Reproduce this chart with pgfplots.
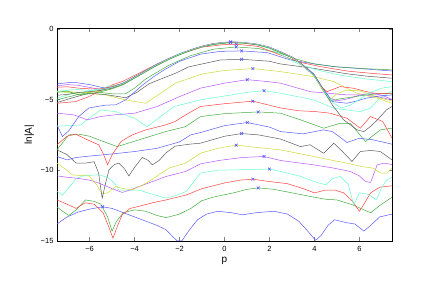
\documentclass[border=0pt]{standalone}
\usepackage{fontspec}
\setmainfont{Liberation Sans}
\usepackage{pgfplots}
\pgfplotsset{compat=1.18}
\definecolor{mlb}{rgb}{0.35,0.35,1}
\definecolor{mlg}{rgb}{0.25,0.68,0.25}
\definecolor{mlr}{rgb}{1,0.25,0.25}
\definecolor{mlc}{rgb}{0.4,1,0.78}
\definecolor{mlm}{rgb}{0.72,0.33,1}
\definecolor{mly}{rgb}{0.8,0.86,0.2}
\definecolor{mlk}{rgb}{0.36,0.36,0.36}
\begin{document}
\begin{tikzpicture}
\begin{axis}[name=ax,
  scale only axis, width=335pt, height=212.3pt,
  xmin=-7.45, xmax=7.45, ymin=-15, ymax=0,
  xtick={-6,-4,-2,0,2,4,6}, xticklabels={−6,−4,−2,0,2,4,6},
  ytick={-15,-10,-5,0}, yticklabels={−15,−10,−5,0},
  tick align=inside, tick pos=both, major tick length=3.5pt,
  ticklabel style={font=\fontsize{7.5}{9}\selectfont},
  xticklabel style={yshift=-1.5pt},
  label style={font=\fontsize{10}{12}\selectfont},
  xlabel={p}, ylabel={ln|A|},
  xlabel style={yshift=1pt}, ylabel style={yshift=0pt},
  axis line style={line width=0.6pt},
  every axis plot/.append style={line width=0.5pt},
  clip=true]
% 1 blue
\addplot[color=mlb, mark=none] coordinates {(-7.45,-13.8) (-7.0,-13.3) (-6.5,-12.95) (-6.0,-12.75) (-5.42,-12.58) (-5.0,-12.7) (-4.5,-13.0) (-4.0,-13.3) (-3.5,-13.6) (-3.0,-13.9) (-2.6,-14.2) (-2.3,-14.7) (-2.1,-15.0) (-1.9,-15.0) (-1.6,-14.3) (-1.2,-13.5) (-0.8,-13.1) (-0.3,-12.9) (0.3,-13.0) (0.8,-13.15) (1.4,-13.0) (2.2,-12.9) (2.8,-13.1) (3.3,-13.6) (3.7,-14.3) (4.05,-14.95) (4.3,-14.6) (4.6,-13.9) (4.9,-13.5) (5.4,-13.7) (5.8,-13.8) (6.2,-14.3) (6.5,-13.9) (6.9,-13.3) (7.45,-13.1)};
% 2 green
\addplot[color=mlg, mark=none] coordinates {(-7.45,-12.6) (-7.2,-12.9) (-6.92,-13.2) (-6.6,-12.8) (-6.18,-12.1) (-5.8,-12.2) (-5.5,-12.4) (-5.2,-13.3) (-5.0,-14.3) (-4.8,-13.6) (-4.5,-13.0) (-4.0,-12.8) (-3.5,-12.9) (-3.0,-13.2) (-2.6,-13.35) (-2.0,-13.1) (-1.5,-12.7) (-1.0,-12.15) (-0.5,-11.9) (0.4,-11.6) (1.0,-11.35) (1.5,-11.25) (2.2,-11.35) (3.0,-11.6) (3.8,-11.85) (4.5,-12.05) (5.0,-12.1) (5.7,-12.45) (6.2,-12.8) (6.5,-13.0) (6.9,-12.5) (7.45,-11.9)};
% 3 red
\addplot[color=mlr, mark=none] coordinates {(-7.45,-12.1) (-7.0,-12.4) (-6.6,-12.7) (-6.2,-12.3) (-5.8,-12.4) (-5.4,-13.0) (-5.15,-14.0) (-4.96,-14.8) (-4.75,-13.9) (-4.55,-13.15) (-4.2,-12.7) (-3.8,-12.55) (-3.2,-12.3) (-2.6,-12.1) (-1.7,-11.75) (-1.0,-11.3) (0.0,-10.9) (0.7,-10.7) (1.26,-10.63) (2.0,-10.8) (2.8,-10.95) (3.5,-11.3) (4.0,-11.6) (4.5,-11.4) (4.9,-11.4) (5.3,-11.6) (5.7,-12.2) (6.0,-12.9) (6.2,-12.4) (6.5,-11.6) (6.9,-11.2) (7.45,-11.1)};
% 4 cyan
\addplot[color=mlc, mark=none] coordinates {(-7.45,-11.5) (-7.2,-11.75) (-6.9,-11.2) (-6.6,-10.6) (-6.3,-10.4) (-5.6,-10.32) (-5.2,-10.5) (-4.9,-10.9) (-4.7,-11.4) (-4.3,-11.4) (-3.8,-11.4) (-3.2,-11.7) (-2.6,-11.97) (-2.2,-11.8) (-1.7,-11.5) (-1.07,-10.2) (-0.3,-10.0) (0.5,-9.97) (1.2,-9.95) (2.0,-9.92) (2.5,-10.09) (3.4,-10.44) (4.0,-10.8) (4.5,-11.03) (4.8,-10.6) (5.15,-10.44) (5.5,-11.0) (5.75,-12.44) (6.0,-11.6) (6.4,-11.7) (6.76,-12.1) (7.0,-11.2) (7.2,-10.7) (7.45,-10.5)};
% 5 purple
\addplot[color=mlm, mark=none] coordinates {(-7.45,-10.4) (-7.0,-10.5) (-6.6,-10.56) (-6.0,-10.7) (-5.6,-10.9) (-5.0,-11.3) (-4.55,-11.57) (-4.2,-11.4) (-3.8,-11.15) (-3.2,-10.8) (-2.6,-10.44) (-1.73,-10.09) (-1.07,-9.55) (-0.2,-9.3) (0.8,-9.1) (1.76,-9.03) (2.49,-9.31) (3.38,-9.5) (3.97,-9.62) (4.86,-9.85) (5.6,-10.09) (6.0,-10.4) (6.27,-10.8) (6.5,-10.86) (6.79,-9.62) (7.1,-9.5) (7.45,-9.6)};
% 6 yellow
\addplot[color=mly, mark=none] coordinates {(-7.45,-9.5) (-7.1,-9.9) (-6.77,-10.32) (-6.4,-10.38) (-6.03,-10.4) (-5.7,-11.0) (-5.44,-11.66) (-5.2,-11.6) (-4.84,-11.15) (-4.5,-11.3) (-4.1,-11.38) (-3.7,-11.1) (-3.36,-10.8) (-2.9,-10.3) (-2.47,-9.85) (-1.73,-9.5) (-1.07,-8.8) (-0.3,-8.45) (0.52,-8.23) (1.5,-8.4) (2.49,-8.56) (3.97,-9.03) (4.7,-9.27) (5.45,-9.5) (6.1,-9.74) (6.6,-9.85) (6.95,-10.2) (7.23,-10.2) (7.45,-9.85)};
% 7 gray
\addplot[color=mlk, mark=none] coordinates {(-7.45,-8.56) (-7.0,-8.9) (-6.6,-9.5) (-6.2,-9.5) (-5.8,-9.4) (-5.6,-10.2) (-5.44,-11.97) (-5.3,-11.0) (-5.14,-9.97) (-4.9,-9.6) (-4.7,-9.5) (-4.45,-9.9) (-4.25,-10.4) (-4.0,-9.8) (-3.66,-9.1) (-3.4,-9.3) (-3.21,-9.62) (-2.9,-9.3) (-2.62,-8.8) (-2.2,-8.3) (-1.5,-8.15) (-1.07,-8.09) (0.0,-7.6) (0.76,-7.41) (1.5,-7.5) (2.49,-7.8) (3.38,-8.33) (3.8,-8.2) (4.41,-8.8) (4.86,-8.09) (5.2,-8.6) (5.67,-9.38) (6.04,-8.68) (6.5,-8.6) (6.93,-8.68) (7.45,-9.27)};
% 8 blue
\addplot[color=mlb, mark=none] coordinates {(-7.45,-9.03) (-7.0,-9.27) (-6.6,-9.1) (-6.0,-9.0) (-5.0,-8.85) (-4.0,-8.68) (-3.0,-8.45) (-2.0,-8.0) (-1.5,-7.5) (-1.07,-7.34) (0.0,-6.85) (1.01,-6.63) (2.0,-6.95) (2.49,-7.27) (3.5,-7.43) (4.4,-7.15) (4.8,-7.27) (5.45,-8.04) (6.0,-7.74) (6.6,-7.85) (7.45,-8.16)};
% 9 green
\addplot[color=mlg, mark=none] coordinates {(-7.45,-8.56) (-6.92,-7.5) (-6.48,-7.45) (-6.0,-7.6) (-5.59,-7.85) (-4.77,-8.33) (-3.8,-7.85) (-2.62,-7.27) (-1.73,-6.92) (-1.07,-6.21) (0.0,-6.0) (1.5,-5.88) (2.49,-5.97) (3.38,-6.44) (4.41,-7.03) (5.15,-6.68) (5.6,-6.7) (6.27,-7.97) (6.93,-7.15) (7.45,-7.03)};
% 10 red
\addplot[color=mlr, mark=none] coordinates {(-7.45,-8.2) (-7.0,-7.6) (-6.62,-7.45) (-6.1,-7.85) (-5.6,-8.2) (-5.4,-8.8) (-5.2,-9.62) (-5.0,-8.91) (-4.6,-7.97) (-4.1,-7.5) (-3.5,-7.15) (-2.62,-6.8) (-2.2,-6.56) (-1.73,-6.09) (-1.07,-5.5) (0.0,-5.3) (1.26,-5.12) (2.5,-5.6) (3.3,-5.8) (4.0,-5.85) (4.7,-5.97) (5.45,-6.33) (6.04,-7.03) (6.49,-6.21) (7.04,-6.56) (7.45,-7.74)};
% 11 cyan
\addplot[color=mlc, mark=none] coordinates {(-7.45,-6.9) (-7.0,-6.85) (-6.4,-6.8) (-6.0,-6.3) (-5.5,-5.74) (-4.84,-5.86) (-4.0,-6.33) (-3.44,-6.92) (-3.0,-6.4) (-2.25,-5.5) (-1.07,-5.03) (-0.18,-4.8) (1.0,-4.5) (1.76,-4.38) (2.49,-4.56) (3.97,-5.03) (4.86,-5.62) (6.04,-5.86) (6.5,-5.6) (6.9,-4.9) (7.45,-4.4)};
% 12 purple
\addplot[color=mlm, mark=none] coordinates {(-7.45,-5.97) (-6.7,-6.09) (-6.1,-6.44) (-5.5,-6.2) (-4.9,-6.09) (-4.0,-5.97) (-3.0,-5.5) (-2.0,-4.8) (-1.07,-4.2) (0.0,-3.85) (1.01,-3.6) (2.0,-3.75) (2.49,-3.85) (3.82,-4.45) (5.45,-4.68) (6.2,-4.68) (6.8,-4.8) (7.45,-5.03)};
% 13 yellow
\addplot[color=mly, mark=none] coordinates {(-7.45,-4.4) (-6.5,-4.5) (-6.03,-4.56) (-5.29,-4.68) (-4.4,-5.03) (-3.5,-5.27) (-3.07,-4.8) (-2.6,-4.3) (-2.18,-3.85) (-1.0,-3.2) (0.0,-2.95) (1.26,-2.82) (2.49,-3.03) (3.97,-3.39) (4.86,-3.74) (5.9,-4.56) (6.8,-4.91) (7.45,-5.27)};
% 14 gray
\addplot[color=mlk, mark=none] coordinates {(-7.45,-5.22) (-6.8,-4.9) (-6.03,-4.56) (-5.3,-4.65) (-4.4,-4.88) (-3.9,-4.5) (-3.36,-3.9) (-2.9,-3.6) (-2.18,-3.15) (-1.6,-2.7) (-0.18,-2.21) (0.76,-2.16) (2.0,-2.3) (2.49,-2.49) (3.97,-2.8) (5.5,-3.2) (6.3,-3.35) (7.45,-3.5)};
% 15 blue
\addplot[color=mlb, mark=none] coordinates {(-7.45,-6.8) (-7.21,-7.62) (-6.92,-7.2) (-6.48,-6.2) (-6.03,-5.6) (-5.29,-5.4) (-4.84,-5.38) (-4.4,-5.03) (-3.66,-4.0) (-3.07,-3.3) (-2.62,-2.85) (-2.0,-2.3) (-1.07,-1.8) (-0.18,-1.6) (0.76,-1.57) (1.9,-1.69) (2.93,-2.21) (3.82,-2.44) (4.86,-2.68) (6.3,-2.85) (7.45,-2.99)};
% 16 green
\addplot[color=mlg, mark=none] coordinates {(-7.45,-5.03) (-6.6,-4.68) (-5.8,-4.45) (-5.0,-4.6) (-4.4,-4.6) (-4.0,-4.2) (-3.5,-3.55) (-2.5,-2.6) (-1.5,-1.9) (-0.5,-1.45) (0.52,-1.29) (1.5,-1.4) (2.49,-1.74) (3.2,-2.15) (3.97,-2.49) (5.0,-2.7) (6.2,-2.82) (7.45,-2.91)};
% 17 red
\addplot[color=mlr, mark=none] coordinates {(-7.45,-5.27) (-6.62,-5.15) (-6.03,-4.8) (-5.6,-4.45) (-5.0,-3.97) (-4.55,-3.74) (-4.0,-3.3) (-3.0,-2.5) (-2.0,-1.8) (-1.0,-1.3) (0.0,-1.12) (0.52,-1.1) (1.5,-1.25) (2.49,-1.86) (3.3,-2.35) (4.26,-2.68) (5.5,-3.0) (6.5,-3.15) (7.45,-3.27)};
% 18 cyan
\addplot[color=mlc, mark=none] coordinates {(-7.45,-4.91) (-6.8,-4.6) (-6.0,-4.4) (-5.2,-4.1) (-4.6,-3.9) (-4.0,-3.4) (-3.0,-2.5) (-2.0,-1.75) (-1.0,-1.25) (0.27,-0.96) (1.2,-1.05) (2.0,-1.4) (2.49,-1.8) (3.3,-2.5) (4.2,-2.95) (5.2,-3.3) (6.3,-3.55) (7.45,-3.74)};
% 19 purple
\addplot[color=mlm, mark=none] coordinates {(-7.45,-4.04) (-7.0,-3.95) (-6.5,-4.0) (-6.0,-4.15) (-5.5,-4.3) (-5.0,-4.15) (-4.5,-3.85) (-4.0,-3.4) (-3.5,-2.95) (-3.0,-2.5) (-2.5,-2.12) (-2.0,-1.78) (-1.5,-1.48) (-1.0,-1.23) (-0.5,-1.05) (0.0,-0.96) (0.3,-0.93) (0.8,-0.96) (1.5,-1.1) (2.0,-1.3) (2.5,-1.63) (3.0,-2.0) (3.4,-2.45) (3.97,-3.2) (4.41,-4.3) (4.7,-4.9) (5.0,-5.1) (5.5,-4.95) (6.0,-4.7) (6.5,-4.55) (7.0,-4.7) (7.45,-5.0)};
% 20 yellow
\addplot[color=mly, mark=none] coordinates {(-7.45,-4.45) (-7.0,-4.5) (-6.5,-4.55) (-6.0,-4.5) (-5.5,-4.4) (-5.0,-4.2) (-4.5,-3.9) (-4.0,-3.45) (-3.5,-3.0) (-3.0,-2.55) (-2.5,-2.15) (-2.0,-1.8) (-1.5,-1.5) (-1.0,-1.25) (-0.5,-1.07) (0.0,-0.98) (0.3,-0.95) (0.8,-0.98) (1.5,-1.12) (2.0,-1.33) (2.5,-1.66) (3.0,-2.02) (3.4,-2.5) (3.97,-3.3) (4.41,-4.45) (4.7,-5.0) (5.0,-4.6) (5.4,-4.35) (5.9,-4.35) (6.4,-4.6) (6.9,-4.9) (7.45,-5.1)};
% 21 gray
\addplot[color=mlk, mark=none] coordinates {(-7.45,-4.7) (-7.0,-4.65) (-6.5,-4.5) (-6.0,-4.45) (-5.5,-4.35) (-5.0,-4.2) (-4.5,-3.92) (-4.0,-3.47) (-3.5,-3.02) (-3.0,-2.57) (-2.5,-2.17) (-2.0,-1.82) (-1.5,-1.52) (-1.0,-1.27) (-0.5,-1.09) (0.0,-1.0) (0.3,-0.97) (0.8,-1.0) (1.5,-1.14) (2.0,-1.35) (2.5,-1.68) (3.0,-2.05) (3.4,-2.5) (3.97,-3.3) (4.41,-4.4) (4.8,-5.4) (5.3,-6.44) (5.9,-7.15) (6.2,-7.27) (6.5,-6.9) (6.8,-6.44) (7.2,-5.74) (7.45,-5.5)};
% 22 blue
\addplot[color=mlb, mark=none] coordinates {(-7.45,-3.9) (-7.0,-3.82) (-6.6,-3.81) (-6.0,-3.95) (-5.29,-4.21) (-5.0,-4.1) (-4.5,-3.85) (-4.0,-3.42) (-3.5,-2.97) (-3.0,-2.52) (-2.5,-2.13) (-2.0,-1.79) (-1.5,-1.49) (-1.0,-1.24) (-0.5,-1.06) (0.0,-0.97) (0.3,-0.94) (0.8,-0.97) (1.5,-1.11) (2.0,-1.31) (2.5,-1.64) (3.0,-2.0) (3.4,-2.45) (3.97,-3.2) (4.41,-4.3) (4.8,-5.15) (5.45,-5.27) (5.9,-5.1) (6.3,-4.91) (6.9,-4.75) (7.45,-4.68)};
% 23 green
\addplot[color=mlg, mark=none] coordinates {(-7.45,-4.5) (-7.0,-4.4) (-6.5,-4.68) (-6.0,-4.6) (-5.5,-4.45) (-5.0,-4.25) (-4.5,-3.95) (-4.0,-3.5) (-3.5,-3.05) (-3.0,-2.6) (-2.5,-2.2) (-2.0,-1.85) (-1.5,-1.55) (-1.0,-1.3) (-0.5,-1.12) (0.0,-1.03) (0.3,-1.0) (0.8,-1.02) (1.5,-1.15) (2.0,-1.36) (2.5,-1.7) (3.0,-2.05) (3.4,-2.5) (3.97,-3.25) (4.41,-4.35) (4.7,-5.1) (5.15,-4.95) (5.6,-4.85) (6.2,-4.7) (6.8,-4.6) (7.45,-4.56)};
% 24 red
\addplot[color=mlr, mark=none] coordinates {(-7.45,-4.14) (-7.0,-4.1) (-6.5,-4.2) (-6.0,-4.25) (-5.5,-4.25) (-5.0,-4.1) (-4.5,-3.87) (-4.0,-3.43) (-3.5,-2.98) (-3.0,-2.53) (-2.5,-2.14) (-2.0,-1.8) (-1.5,-1.5) (-1.0,-1.25) (-0.5,-1.07) (0.0,-0.98) (0.3,-0.95) (0.8,-0.98) (1.5,-1.12) (2.0,-1.33) (2.5,-1.65) (3.0,-2.0) (3.4,-2.45) (3.97,-3.3) (4.3,-4.1) (4.56,-4.45) (5.15,-4.09) (5.75,-4.21) (6.2,-4.4) (6.64,-4.56) (7.45,-4.6)};
% 25 cyan
\addplot[color=mlc, mark=none] coordinates {(-7.45,-4.45) (-7.0,-4.35) (-6.5,-4.3) (-6.0,-4.35) (-5.5,-4.3) (-5.0,-4.15) (-4.5,-3.88) (-4.0,-3.44) (-3.5,-2.99) (-3.0,-2.54) (-2.5,-2.15) (-2.0,-1.8) (-1.5,-1.5) (-1.0,-1.25) (-0.5,-1.07) (0.0,-0.97) (0.3,-0.94) (0.8,-0.97) (1.5,-1.11) (2.0,-1.32) (2.5,-1.65) (3.0,-2.02) (3.4,-2.5) (3.97,-3.3) (4.41,-4.4) (4.8,-5.2) (5.2,-5.6) (5.6,-5.4) (6.0,-5.0) (6.5,-4.5) (7.0,-4.2) (7.45,-4.1)};
% maxima markers
\addplot[only marks, mark=x, mark size=2pt, color=mlb, mark options={line width=0.6pt}] coordinates {(0.27,-0.93) (0.27,-0.96) (0.52,-1.10) (0.52,-1.29) (0.76,-1.57) (0.76,-2.16) (1.26,-2.82) (1.01,-3.60) (1.76,-4.38) (1.26,-5.12) (1.50,-5.88) (1.01,-6.63) (0.76,-7.41) (0.52,-8.23) (1.76,-9.03) (2.0,-9.92) (1.26,-10.63) (1.50,-11.25) (-5.42,-12.58)};
\end{axis}
\path[use as bounding box] ([xshift=-57pt,yshift=-44pt]ax.south west) rectangle ([xshift=44pt,yshift=28.7pt]ax.north east);
\end{tikzpicture}
\end{document}
